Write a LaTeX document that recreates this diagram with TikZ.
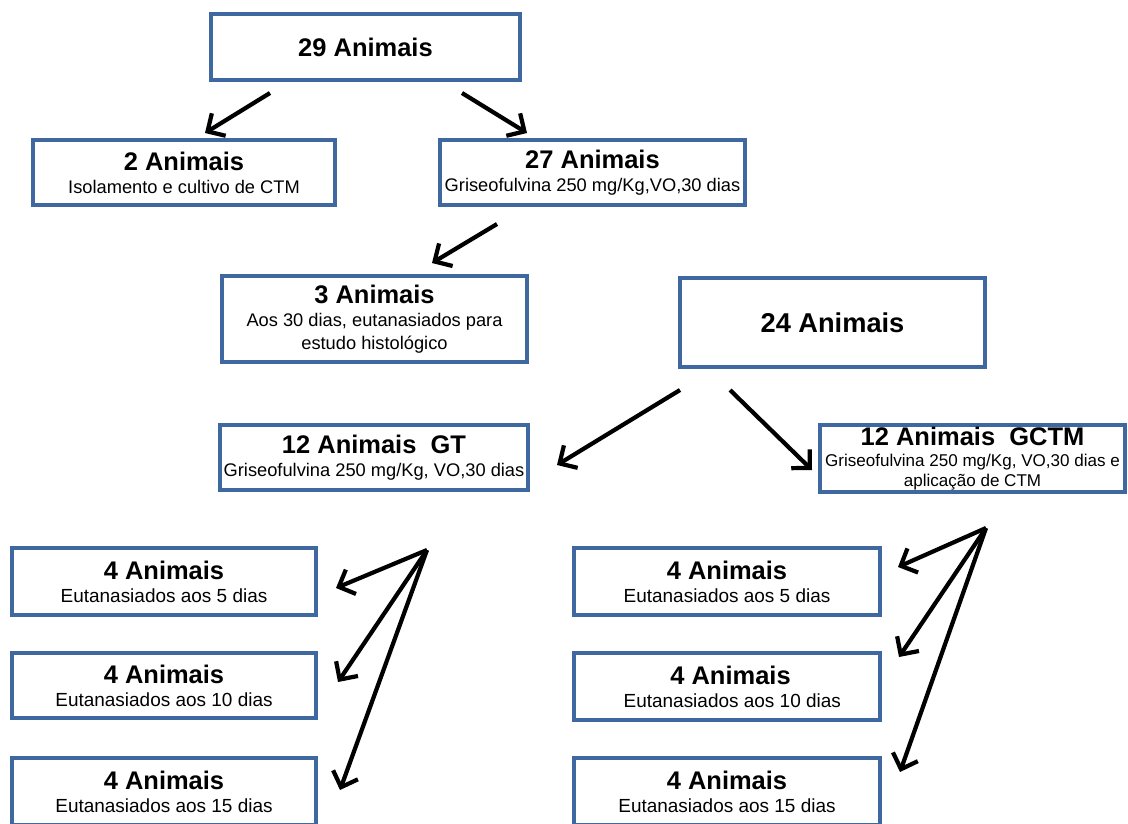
\documentclass[tikz,border=0pt]{standalone}
\usepackage{fontspec}
\setmainfont{Liberation Sans}
\usetikzlibrary{arrows.meta,positioning}

\newcommand{\ttl}[1]{{\fontsize{14.5}{17}\selectfont\bfseries #1}}
\newcommand{\sub}[1]{{\fontsize{10.4}{12.5}\selectfont #1}}
\newcommand{\subb}[1]{{\fontsize{10.8}{13}\selectfont #1}}

\begin{document}
\begin{tikzpicture}[x=0.02cm, y=-0.02cm,
    box/.style={draw=boxblue, line width=1.9pt, fill=white, align=center, inner sep=1pt, minimum height=1.3cm},
    arr/.style={line width=2.4pt, black, -{Straight Barb[length=7.5pt, width=15pt, line width=2.4pt]}}]
    \definecolor{boxblue}{HTML}{3F67A0}
    \useasboundingbox (0,0) rectangle (1128,823);
    \clip (0,0) rectangle (1128,823);

    % Top level
    \node[box, minimum width=6.18cm, minimum height=1.32cm] (tot) at (365.5,47) {\ttl{29 Animais}};
    \node[box, minimum width=6.04cm] (cult) at (184,172.5) {\ttl{2 Animais}\\[1pt]\sub{Isolamento e cultivo de CTM}};
    \node[box, minimum width=6.1cm] (gris) at (592.5,172.5) {\ttl{27 Animais}\\[1pt]\sub{Griseofulvina 250 mg/Kg,VO,30 dias}};

    % Second level
    \node[box, minimum width=6.1cm, minimum height=1.72cm] (hist) at (374.5,319) {\ttl{3 Animais}\\[1pt]\sub{Aos 30 dias, eutanasiados para}\\[1pt]\sub{estudo histológico}};
    \node[box, minimum width=6.1cm, minimum height=1.78cm] (rest) at (832.5,322.5) {\fontsize{15.5}{18}\selectfont\bfseries 24 Animais};

    % Groups
    \node[box, minimum width=6.16cm] (gt) at (374,457.5) {\ttl{12 Animais\ \ GT}\\[1pt]\sub{Griseofulvina 250 mg/Kg, VO,30 dias}};
    \node[box, minimum width=6.1cm, minimum height=1.34cm, inner sep=0pt] (gctm) at (972.5,458.5) {\ttl{12 Animais\ \ GCTM}\\{\fontsize{9.7}{11.5}\selectfont Griseofulvina 250 mg/Kg, VO,30 dias e}\\[-1pt]{\fontsize{9.7}{11.5}\selectfont aplicação de CTM}};

    % GT column
    \node[box, minimum width=6.08cm, minimum height=1.34cm] (gtA) at (164,581.5) {\ttl{4 Animais}\\[1pt]\subb{Eutanasiados\ aos 5 dias}};
    \node[box, minimum width=6.08cm, minimum height=1.3cm] (gtB) at (164,685.5) {\ttl{4 Animais}\\[1pt]\subb{Eutanasiados\ aos 10 dias}};
    \node[box, minimum width=6.08cm, minimum height=1.34cm] (gtC) at (164,791.5) {\ttl{4 Animais}\\[1pt]\subb{Eutanasiados\ aos 15 dias}};

    % GCTM column
    \node[box, minimum width=6.12cm, minimum height=1.34cm] (gcA) at (727,581.5) {\ttl{4 Animais}\\[1pt]\subb{Eutanasiados\ aos 5 dias}};
    \node[box, minimum width=6.12cm, minimum height=1.34cm] (gcB) at (727,686.5) {\ttl{\ 4 Animais}\\[1pt]\subb{\ \ Eutanasiados\ aos 10 dias}};
    \node[box, minimum width=6.12cm, minimum height=1.34cm] (gcC) at (727,791.5) {\ttl{4 Animais}\\[1pt]\subb{Eutanasiados\ aos 15 dias}};

    % Arrow ends
    \coordinate (totL) at (270,93);   \coordinate (cultT) at (205,133);
    \coordinate (totR) at (462,93);   \coordinate (grisT) at (527,133);
    \coordinate (grisB) at (497,224); \coordinate (histT) at (432,263);
    \coordinate (restL) at (680,390); \coordinate (gtT) at (557,465);
    \coordinate (restR) at (730,390); \coordinate (gctmT) at (812,470);
    \coordinate (gtO) at (427,550);
    \coordinate (gtA1) at (336,588); \coordinate (gtB1) at (338,682); \coordinate (gtC1) at (340,790);
    \coordinate (gcO) at (986,528);
    \coordinate (gcA1) at (898,567); \coordinate (gcB1) at (899,657); \coordinate (gcC1) at (900,772);

    % Arrows
    \draw[arr] (totL) -- (cultT);
    \draw[arr] (totR) -- (grisT);
    \draw[arr] (grisB) -- (histT);
    \draw[arr] (restL) -- (gtT);
    \draw[arr] (restR) -- (gctmT);
    \foreach \t in {gtA1,gtB1,gtC1} \draw[arr] (gtO) -- (\t);
    \foreach \t in {gcA1,gcB1,gcC1} \draw[arr] (gcO) -- (\t);
\end{tikzpicture}
\end{document}
